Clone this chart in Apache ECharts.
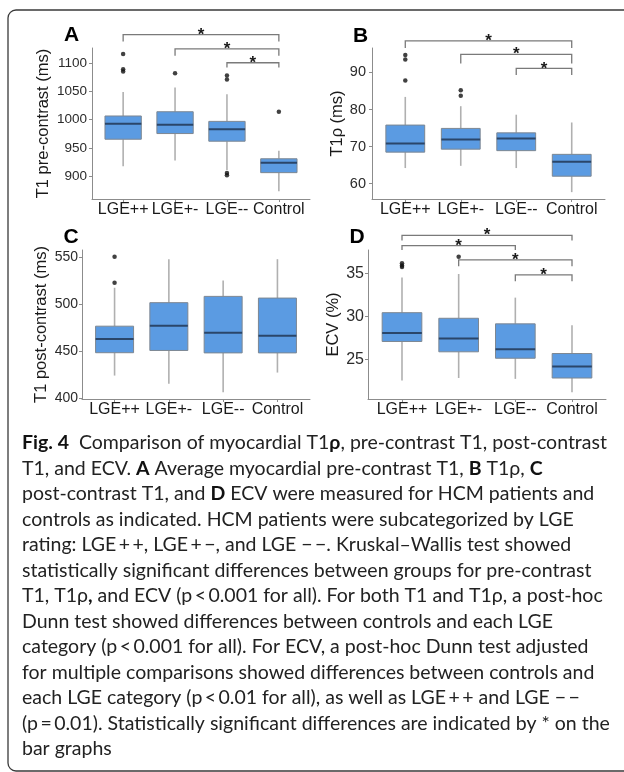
<!DOCTYPE html>
<html>
<head>
<meta charset="utf-8">
<script src="https://cdn.jsdelivr.net/npm/echarts@6/dist/echarts.min.js"></script>
<style>
html,body{margin:0;padding:0;background:#fff;}
#chart{width:624px;height:772px;}
</style>
</head>
<body>
<div id="chart"></div>
<script>
// ---------------- DATA ----------------
const CATS = ['LGE++', 'LGE+-', 'LGE--', 'Control'];

// A: T1 pre-contrast (ms)
const A_MIN = [918, 928, 911, 873.5];
const A_Q1  = [965.5, 975.5, 962, 906.5];
const A_MED = [993, 991, 983, 924];
const A_Q3  = [1006.5, 1014, 997, 931];
const A_MAX = [1049, 1057, 1045, 945];
const A_OUT = [[0, 1116], [0, 1089], [0, 1085], [1, 1082], [2, 1078], [2, 1071], [2, 906], [2, 902], [3, 1014]];
const A_TICKS = [900, 950, 1000, 1050, 1100];
const A_RANGE = [860, 1126.5];
const A_SIG = [[0, 3, 1150, 1138], [1, 3, 1125, 1113], [2, 3, 1100.5, 1092]];

// B: T1rho (ms)
const B_MIN = [64.2, 64.8, 64.2, 57.7];
const B_Q1  = [68.5, 69.3, 68.9, 62.0];
const B_MED = [70.8, 71.9, 72.2, 65.9];
const B_Q3  = [75.8, 74.9, 73.7, 67.9];
const B_MAX = [83.4, 80.9, 78.6, 76.5];
const B_OUT = [[0, 94.7], [0, 93.5], [0, 87.8], [1, 85.2], [1, 83.7]];
const B_TICKS = [60, 70, 80, 90];
const B_RANGE = [55.85, 96.6];
const B_SIG = [[0, 3, 98.5, 96.6], [1, 3, 94.9, 92.4], [2, 3, 91.1, 89.3]];

// C: T1 post-contrast (ms)
const C_MIN = [423.8, 415, 406, 427];
const C_Q1  = [448.2, 450.6, 448, 448];
const C_MED = [462.7, 477, 469.4, 466.2];
const C_Q3  = [476.5, 501.6, 508.3, 506.5];
const C_MAX = [517.5, 548, 525.2, 548];
const C_OUT = [[0, 550.6], [0, 522.8]];
const C_TICKS = [400, 450, 500, 550];
const C_RANGE = [398.8, 557.8];
const C_SIG = [];

// D: ECV (%)
const D_MIN = [22.5, 22.8, 22.7, 21.15];
const D_Q1  = [27.05, 25.85, 25.1, 22.8];
const D_MED = [28.05, 27.4, 26.15, 24.15];
const D_Q3  = [30.4, 29.75, 29.1, 25.65];
const D_MAX = [34.5, 34.9, 32.15, 28.95];
const D_OUT = [[0, 36.15], [0, 35.9], [0, 35.7], [1, 36.9]];
const D_TICKS = [25, 30, 35];
const D_RANGE = [20.36, 37.69];
const D_SIG = [[0, 3, 39.4, 38.8], [0, 2, 38.2, 37.7], [1, 3, 36.55, 35.8], [2, 3, 34.8, 34.05]];

const Y_NAMES = ['T1 pre-contrast (ms)', 'T1\u03c1 (ms)', 'T1 post-contrast (ms)', 'ECV (%)'];
const PANEL_LETTERS = ['A', 'B', 'C', 'D'];

const CAPTION = [
  '{b|Fig. 4}  Comparison of myocardial T1{b|\u03c1}, pre-contrast T1, post-contrast',
  'T1, and ECV. {b|A} Average myocardial pre-contrast T1, {b|B} T1\u03c1, {b|C}',
  'post-contrast T1, and {b|D} ECV were measured for HCM patients and',
  'controls as indicated. HCM patients were subcategorized by LGE',
  'rating: LGE\u2009+\u2009+, LGE\u2009+\u2009\u2212, and LGE \u2212\u2009\u2212. Kruskal\u2013Wallis test showed',
  'statistically significant differences between groups for pre-contrast',
  'T1, T1\u03c1{b|,} and ECV (p\u2009<\u20090.001 for all). For both T1 and T1\u03c1, a post-hoc',
  'Dunn test showed differences between controls and each LGE',
  'category (p\u2009<\u20090.001 for all). For ECV, a post-hoc Dunn test adjusted',
  'for multiple comparisons showed differences between controls and',
  'each LGE category (p\u2009<\u20090.01 for all), as well as LGE\u2009+\u2009+ and LGE \u2212\u2009\u2212',
  '(p\u2009=\u20090.01). Statistically significant differences are indicated by * on the',
  'bar graphs'
];

// ---------------- STYLE / LAYOUT ----------------
const BOX_FILL = '#5b9be2';
const BOX_BORDER = '#7d8792';
const MED_COLOR = '#2a466a';
const WHISK = '#b0b0b0';
const AXIS_COLOR = '#8c8c8c';
const TEXT = '#2b2b2b';
const FONT = "'Liberation Sans', Arial, sans-serif";

const panels = [
  {min: A_MIN, q1: A_Q1, med: A_MED, q3: A_Q3, max: A_MAX, out: A_OUT, ticks: A_TICKS, range: A_RANGE, sig: A_SIG,
   grid: {left: 92, top: 48, width: 218, height: 151}, tickFs: 13.5, nameGap: 40, labMargin: 5, letter: [71.5, 35]},
  {min: B_MIN, q1: B_Q1, med: B_MED, q3: B_Q3, max: B_MAX, out: B_OUT, ticks: B_TICKS, range: B_RANGE, sig: B_SIG,
   grid: {left: 372, top: 48, width: 233, height: 151}, tickFs: 14.5, nameGap: 26.5, labMargin: 6, letter: [360.5, 36]},
  {min: C_MIN, q1: C_Q1, med: C_MED, q3: C_Q3, max: C_MAX, out: C_OUT, ticks: C_TICKS, range: C_RANGE, sig: C_SIG,
   grid: {left: 82, top: 250, width: 228, height: 149}, tickFs: 14, nameGap: 32.5, labMargin: 4, letter: [71, 237]},
  {min: D_MIN, q1: D_Q1, med: D_MED, q3: D_Q3, max: D_MAX, out: D_OUT, ticks: D_TICKS, range: D_RANGE, sig: D_SIG,
   grid: {left: 368, top: 250, width: 238, height: 149}, tickFs: 16, nameGap: 22.5, labMargin: 4, letter: [357, 237]}
];

const chart = echarts.init(document.getElementById('chart'), null, {renderer: 'canvas'});

const grids = [], xAxes = [], yAxes = [], series = [], graphics = [];

panels.forEach((p, i) => {
  grids.push(Object.assign({containLabel: false}, p.grid));
  xAxes.push({
    type: 'value', gridIndex: i, min: -0.6, max: 3.6,
    axisLine: {show: true, onZero: false, lineStyle: {color: AXIS_COLOR, width: 1}},
    axisTick: {show: true, customValues: [0, 1, 2, 3], length: 3, lineStyle: {color: AXIS_COLOR}},
    axisLabel: {show: true, customValues: [0, 1, 2, 3], margin: 3, fontSize: 16, color: '#1a1a1a', fontFamily: FONT,
      formatter: v => CATS[Math.round(v)] || ''},
    splitLine: {show: false}
  });
  yAxes.push({
    type: 'value', gridIndex: i, min: p.range[0], max: p.range[1],
    name: Y_NAMES[i], nameLocation: 'middle', nameRotate: 90, nameGap: p.nameGap,
    nameTextStyle: {fontSize: 16.5, color: '#1a1a1a', fontFamily: FONT},
    axisLine: {show: true, onZero: false, lineStyle: {color: AXIS_COLOR, width: 1}},
    axisTick: {show: true, customValues: p.ticks, length: 3, lineStyle: {color: AXIS_COLOR}},
    axisLabel: {show: true, customValues: p.ticks, margin: p.labMargin, fontSize: p.tickFs, color: TEXT, fontFamily: FONT,
      formatter: v => String(v)},
    splitLine: {show: false}
  });
  const boxData = CATS.map((c, k) => [k, p.min[k], p.q1[k], p.med[k], p.q3[k], p.max[k]]);
  series.push({
    type: 'custom', xAxisIndex: i, yAxisIndex: i, data: boxData,
    encode: {x: 0, y: [1, 2, 3, 4, 5]},
    renderItem: (params, api) => {
      const x = api.value(0);
      const lo = api.coord([x, api.value(1)]);
      const q1 = api.coord([x, api.value(2)]);
      const md = api.coord([x, api.value(3)]);
      const q3 = api.coord([x, api.value(4)]);
      const hi = api.coord([x, api.value(5)]);
      const hw = api.size([0.7, 0])[0] / 2;
      return {type: 'group', children: [
        {type: 'line', shape: {x1: lo[0], y1: lo[1], x2: q1[0], y2: q1[1]}, style: {stroke: WHISK, lineWidth: 1.6}},
        {type: 'line', shape: {x1: q3[0], y1: q3[1], x2: hi[0], y2: hi[1]}, style: {stroke: WHISK, lineWidth: 1.6}},
        {type: 'rect', shape: {x: q3[0] - hw, y: q3[1], width: 2 * hw, height: q1[1] - q3[1]},
          style: {fill: BOX_FILL, stroke: BOX_BORDER, lineWidth: 1}},
        {type: 'line', shape: {x1: md[0] - hw, y1: md[1], x2: md[0] + hw, y2: md[1]}, style: {stroke: MED_COLOR, lineWidth: 2}}
      ]};
    }
  });
  series.push({
    type: 'scatter', xAxisIndex: i, yAxisIndex: i, data: p.out, symbolSize: 4.5,
    itemStyle: {color: '#111'}, clip: false
  });
  if (p.sig.length) {
    series.push({
      type: 'custom', xAxisIndex: i, yAxisIndex: i, data: p.sig, clip: false,
      encode: {x: [0, 1], y: [2, 3]},
      renderItem: (params, api) => {
        const x1 = api.value(0), x2 = api.value(1), yt = api.value(2), yb = api.value(3);
        const a = api.coord([x1, yb]), b = api.coord([x1, yt]), c = api.coord([x2, yt]), d = api.coord([x2, yb]);
        return {type: 'group', children: [
          {type: 'polyline', shape: {points: [a, b, c, d]}, style: {stroke: '#7a7a7a', lineWidth: 1.3, fill: null}},
          {type: 'text', x: (b[0] + c[0]) / 2, y: b[1] + 0.5,
            style: {text: '*', fill: '#1a1a1a', fontSize: 17, fontFamily: FONT, fontWeight: 'bold',
              align: 'center', verticalAlign: 'middle', textAlign: 'center', textVerticalAlign: 'middle'}}
        ]};
      }
    });
  }
  graphics.push({
    type: 'text', x: p.letter[0], y: p.letter[1],
    style: {text: PANEL_LETTERS[i], fill: '#000', fontSize: 21, fontWeight: 'bold', fontFamily: FONT,
      align: 'center', verticalAlign: 'middle', textAlign: 'center', textVerticalAlign: 'middle'}
  });
});

// figure border
graphics.push({
  type: 'rect', shape: {x: 8, y: 10, width: 700, height: 761, r: 8},
  style: {fill: null, stroke: '#3a3a3a', lineWidth: 1.3}, silent: true
});

// caption
const CAP_FONT = "Lato, 'Open Sans', sans-serif";
const CAP_FS = 19.5;
CAPTION.forEach((line, k) => {
  graphics.push({
    type: 'text', x: 22, y: 443 + k * 25.5,
    style: {text: line, fill: '#222', fontSize: CAP_FS, fontFamily: CAP_FONT,
      align: 'left', verticalAlign: 'middle', textAlign: 'left', textVerticalAlign: 'middle',
      rich: {b: {fontWeight: 'bold', fontSize: CAP_FS, fontFamily: CAP_FONT, fill: '#111'}}}
  });
});

chart.setOption({
  animation: false,
  backgroundColor: '#fff',
  grid: grids,
  xAxis: xAxes,
  yAxis: yAxes,
  series: series,
  graphic: graphics
});
</script>
</body>
</html>
